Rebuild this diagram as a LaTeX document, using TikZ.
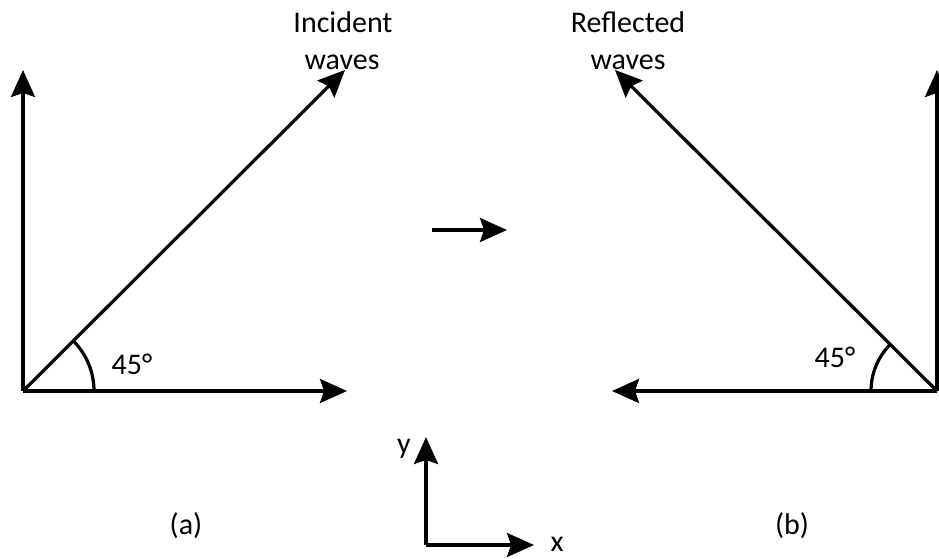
\documentclass[tikz,border=0pt]{standalone}
\usepackage{fontspec}
\setmainfont{Carlito}
\usetikzlibrary{arrows.meta}
\tikzset{
  vec/.style={line width=3.2pt, -{Stealth[length=27pt,width=24pt,inset=4pt]}},
  anglearc/.style={line width=3.2pt},
  lbl/.style={font=\fontsize{30}{37}\selectfont, inner sep=0pt, anchor=base},
}
\begin{document}
\begin{tikzpicture}[x=1pt,y=1pt]
  \useasboundingbox (0,0) rectangle (939,559);

  % (a) incident waves
  \coordinate (oa) at (23,168);
  \coordinate (ay) at (23,489);
  \coordinate (ax) at (347,168);
  \coordinate (ad) at (345,489);
  \draw[vec] (oa) -- (ay);
  \draw[vec] (oa) -- (ax);
  \draw[vec] (oa) -- (ad);
  \draw[anglearc] ([xshift=71pt]oa) arc[start angle=0,end angle=45,radius=71];
  \node[lbl] (anga) at (132,184) {45°};
  \node[lbl] (inc1) at (343,526) {Incident};
  \node[lbl] (inc2) at (342,489) {waves};
  \node[lbl] (laba) at (186,24) {(a)};

  % transformation arrow
  \coordinate (ms) at (432,329);
  \coordinate (me) at (507,329);
  \draw[vec] (ms) -- (me);

  % (b) reflected waves
  \coordinate (ob) at (937,168);
  \coordinate (by) at (937,489);
  \coordinate (bx) at (612,168);
  \coordinate (bd) at (615,489);
  \draw[vec] (ob) -- (by);
  \draw[vec] (ob) -- (bx);
  \draw[vec] (ob) -- (bd);
  \draw[anglearc] ([xshift=-66pt]ob) arc[start angle=180,end angle=135,radius=66];
  \node[lbl] (angb) at (835,191) {45°};
  \node[lbl] (refl1) at (628,526) {Reflected};
  \node[lbl] (refl2) at (628,489) {waves};
  \node[lbl] (labb) at (792,24) {(b)};

  % coordinate axes
  \coordinate (c0) at (426,14);
  \coordinate (cy) at (426,122);
  \coordinate (cx) at (534,14);
  \draw[vec] (c0) -- (cy);
  \draw[vec] (c0) -- (cx);
  \node[lbl] (ylab) at (404,105) {y};
  \node[lbl] (xlab) at (557,7) {x};
\end{tikzpicture}
\end{document}
